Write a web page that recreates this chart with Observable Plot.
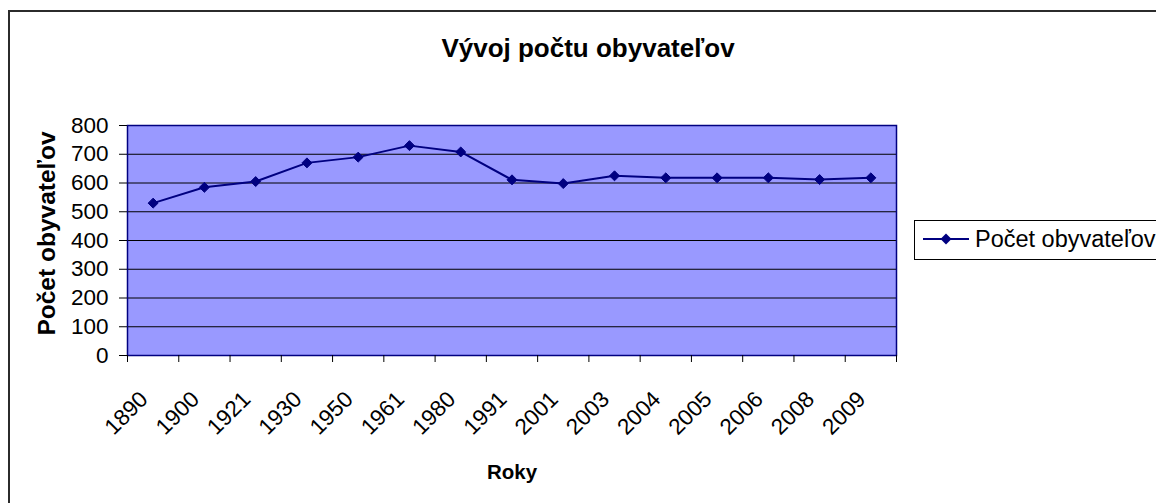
<!DOCTYPE html>
<html>
<head>
<meta charset="utf-8">
<script src="https://cdn.jsdelivr.net/npm/d3@7"></script>
<script src="https://cdn.jsdelivr.net/npm/@observablehq/plot@0.6"></script>
<style>
  html, body { margin: 0; padding: 0; background: #fff; }
  #wrap { position: relative; width: 1156px; height: 503px; overflow: hidden; font-family: "Liberation Sans", Arial, sans-serif; }
  #outer { position: absolute; left: 8px; top: 10px; width: 1180px; height: 600px; border-left: 2px solid #2b2b2b; border-top: 2px solid #2b2b2b; }
  #title { position: absolute; left: 8px; width: 1160px; top: 33px; text-align: center; font-weight: bold; font-size: 26px; line-height: 30px; color: #000; }
  #chart { position: absolute; left: 0; top: 0; }
  #legend { position: absolute; left: 914px; top: 220px; width: 270px; height: 38px; border: 1px solid #000; background: #fff; }
  #legend svg { position: absolute; left: 0; top: 0; }
  #legend span { position: absolute; left: 60px; top: 5px; font-size: 23.5px; line-height: 27px; color: #000; white-space: nowrap; }
</style>
</head>
<body>
<div id="wrap">
  <div id="outer"></div>
  <div id="chart"></div>
  <div id="title">Vývoj počtu obyvateľov</div>
  <div id="legend"><svg width="60" height="38"><line x1="8" x2="54" y1="18" y2="18" stroke="#000080" stroke-width="2"/><path d="M31,12.5L36.5,18L31,23.5L25.5,18Z" fill="#000080"/></svg><span>Počet obyvateľov</span></div>
</div>
<script>
const years = ["1890","1900","1921","1930","1950","1961","1980","1991","2001","2003","2004","2005","2006","2008","2009"];
const population = [530, 585, 605, 670, 690, 730, 708, 611, 598, 625, 618, 618, 618, 612, 618];
const yTicks = [0, 100, 200, 300, 400, 500, 600, 700, 800];
const seriesName = "Počet obyvateľov";
const xTitle = "Roky";
const yTitle = "Počet obyvateľov";

const data = years.map((year, i) => ({i: i + 0.5, year, value: population[i]}));
const navy = "#000080";

const chart = Plot.plot({
  width: 1156,
  height: 503,
  marginLeft: 127,
  marginRight: 260,
  marginTop: 125,
  marginBottom: 148,
  style: {fontFamily: "'Liberation Sans', Arial, sans-serif", fontSize: "22px", color: "#000", background: "transparent", overflow: "visible"},
  x: {domain: [0, years.length], axis: null},
  y: {domain: [0, 800], axis: null},
  marks: [
    Plot.frame({fill: "#9999ff"}),
    Plot.gridY(yTicks, {stroke: "#000", strokeOpacity: 1, strokeWidth: 1}),
    Plot.frame({stroke: navy, strokeWidth: 1.5}),
    Plot.axisY(yTicks, {tickSize: 8, tickPadding: 11, label: null, fontSize: 22.5, stroke: "#000"}),
    Plot.axisX(d3.range(years.length + 1), {tickSize: 7, tickFormat: () => "", label: null, stroke: "#000"}),
    Plot.axisX(data.map(d => d.i), {tickSize: 0, tickRotate: -45, tickPadding: 14, tickFormat: v => years[Math.floor(v)], label: null, fontSize: 22.5, dx: -9, dy: 26}),
    Plot.text([xTitle], {frameAnchor: "bottom", dy: 117, fontWeight: "bold", fontSize: 20.5, lineAnchor: "middle"}),
    Plot.text([yTitle], {frameAnchor: "left", dx: -80, dy: -7, rotate: -90, textAnchor: "middle", fontWeight: "bold", fontSize: 24.5, lineAnchor: "middle"}),
    Plot.line(data, {x: "i", y: "value", stroke: navy, strokeWidth: 2}),
    Plot.dot(data, {x: "i", y: "value", symbol: "diamond2", r: 4.5, fill: navy, stroke: navy, strokeWidth: 1})
  ]
});
document.getElementById("chart").appendChild(chart);
</script>
</body>
</html>
